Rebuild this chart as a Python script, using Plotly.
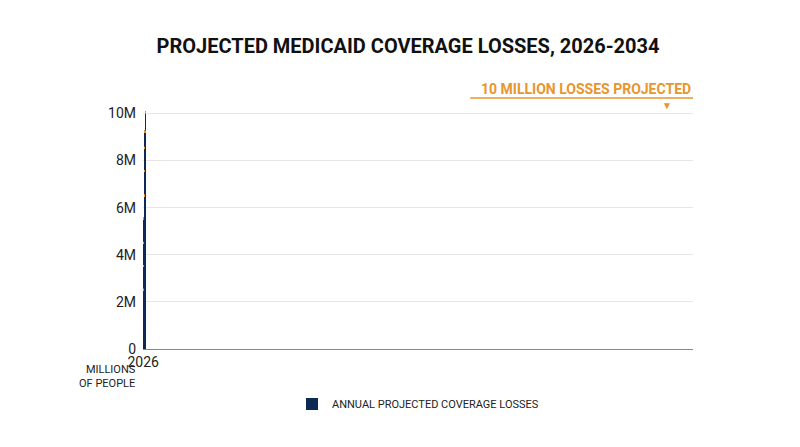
import plotly.graph_objects as go

years = ["2026", "2027", "2028", "2029", "2030", "2031", "2032", "2033", "2034"]
losses = [2.57, 3.56, 4.55, 5.58, 6.57, 7.6, 8.58, 9.27, 10.09]  # millions
tick_vals = [0, 2, 4, 6, 8, 10]
tick_text = ["0", "2M", "4M", "6M", "8M", "10M"]

NAVY = "#0d2a52"
ORANGE = "#e8952e"
CAP = 0.08

fig = go.Figure()
fig.add_bar(x=years, y=losses, marker_color=NAVY, marker_line_width=0,
            name="ANNUAL PROJECTED COVERAGE LOSSES")
# orange glow cap on top of each bar
fig.add_bar(x=years, y=[CAP * 1.6] * len(years), base=[v - CAP * 1.6 for v in losses],
            marker_color="rgba(232,149,46,0.35)", marker_line_width=0,
            showlegend=False, hoverinfo="skip")
fig.add_bar(x=years, y=[CAP] * len(years), base=[v - CAP for v in losses],
            marker_color=ORANGE, marker_line_width=0,
            showlegend=False, hoverinfo="skip")

fig.add_annotation(x=years[-1], y=losses[-1], xref="x", yref="y",
                   text="<b>10 MILLION LOSSES PROJECTED</b>", showarrow=False,
                   xanchor="right", yanchor="bottom", xshift=26, yshift=12,
                   font=dict(color=ORANGE, size=14))
fig.add_shape(type="line", xref="paper", yref="paper", x0=0.595, x1=1.0, y0=1.055, y1=1.055,
              line=dict(color=ORANGE, width=1.5))
fig.add_annotation(x=years[-1], y=losses[-1], text="▼", showarrow=False, yanchor="bottom",
                   yshift=-2, font=dict(color=ORANGE, size=10))
fig.add_annotation(xref="paper", yref="paper", x=-0.01, y=-0.05, xanchor="right", yanchor="top",
                   text="MILLIONS<br>OF PEOPLE", showarrow=False, align="right",
                   font=dict(size=11, color="#222"))

fig.update_layout(
    title=dict(text="<b>PROJECTED MEDICAID COVERAGE LOSSES, 2026-2034</b>", x=0.5, y=0.93,
               xanchor="center", font=dict(size=20, color="#111")),
    width=800, height=447, barmode="overlay", bargap=0.27,
    plot_bgcolor="white", paper_bgcolor="white",
    font=dict(family="Roboto", color="#222", size=14),
    margin=dict(l=135, r=115, t=103, b=106),
    legend=dict(orientation="h", x=0.5, xanchor="center", y=-0.17, yanchor="top",
                font=dict(size=11)),
    xaxis=dict(type="category", showgrid=False, showline=True, linecolor="#888", ticks=""),
    yaxis=dict(range=[0, 10.1], tickvals=tick_vals, ticktext=tick_text,
               gridcolor="#e6e6e6", zeroline=False, ticks="", ticklabelstandoff=6),
)
fig.write_html("out.html")
